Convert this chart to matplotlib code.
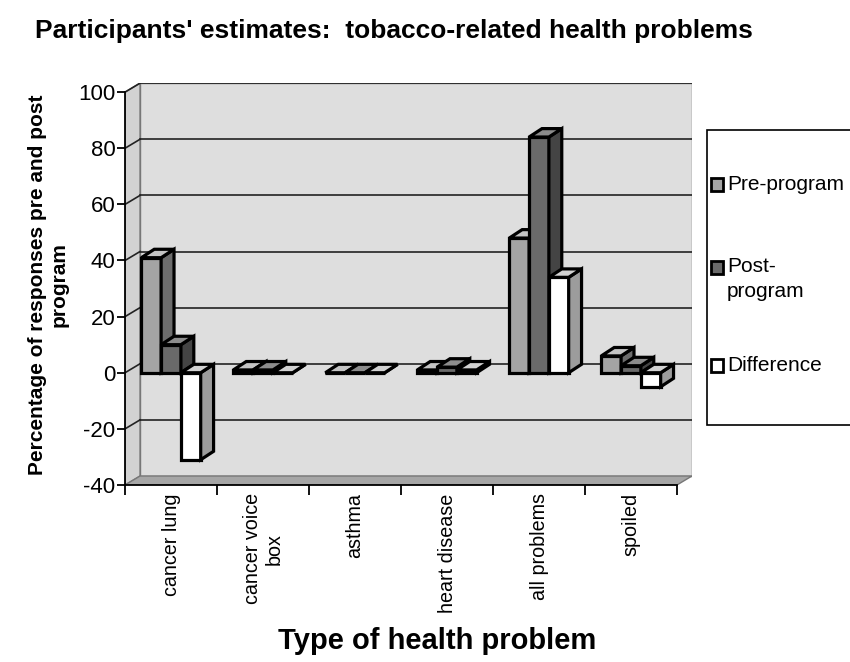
# Participants' estimates: tobacco-related health problems (pseudo-3D column chart)
import matplotlib
matplotlib.use("Agg")
import matplotlib.pyplot as plt
from matplotlib.patches import Polygon, Rectangle

plt.rcParams["font.family"] = ["Liberation Sans", "DejaVu Sans"]

categories = ["cancer lung", "cancer voice\nbox", "asthma", "heart disease",
              "all problems", "spoiled"]
pre = [41, 1, 0, 1, 48, 6]
post = [10, 1, 0, 2, 84, 2.5]
diff = [-31, 0, 0, 1, 34, -5]
series = ["Pre-program", "Post-\nprogram", "Difference"]
yticks = [-40, -20, 0, 20, 40, 60, 80, 100]

# colours: front, side, top
COLS = [("#a4a4a4", "#6c6c6c", "#c4c4c4"),
        ("#6a6a6a", "#444444", "#8c8c8c"),
        ("#ffffff", "#9c9c9c", "#d2d2d2")]
WALL, SIDEWALL, FLOOR = "#dedede", "#d2d2d2", "#a6a6a6"

DX, DY = 0.163, 3.2          # wall depth (category units, value units)
BDX, BDY = 0.14, 3.0         # bar depth
W = 0.215                    # bar width
YMIN, YMAX = -40, 100
LW = 2.3

fig = plt.figure(figsize=(8.5, 6.62), dpi=100)
ax = fig.add_axes([0.1471, 0.2674, 0.667, 0.607])
n = len(categories)
x0, x1 = -0.5, n - 0.5
ax.set_xlim(x0, x1 + DX)
ax.set_ylim(YMIN, YMAX + DY)
for s in ax.spines.values():
    s.set_visible(False)

# walls and floor
ax.add_patch(Rectangle((x0 + DX, YMIN + DY), x1 - x0, YMAX - YMIN, fc=WALL,
                       ec="#777777", lw=1, zorder=0.5))
ax.add_patch(Polygon([(x0, YMIN), (x0, YMAX), (x0 + DX, YMAX + DY), (x0 + DX, YMIN + DY)],
                     closed=True, fc=SIDEWALL, ec="#777777", lw=1, zorder=0.6))
ax.add_patch(Polygon([(x0, YMIN), (x1, YMIN), (x1 + DX, YMIN + DY), (x0 + DX, YMIN + DY)],
                     closed=True, fc=FLOOR, ec="#777777", lw=1, zorder=0.7))
for y in yticks[1:]:
    ax.plot([x0 + DX, x1 + DX], [y + DY, y + DY], color="#222222", lw=1.2, zorder=1)
    ax.plot([x0, x0 + DX], [y, y + DY], color="#222222", lw=1.2, zorder=1)

# front axes lines
ax.plot([x0, x0], [YMIN, YMAX], color="k", lw=1.3, zorder=2, clip_on=False)
ax.plot([x0, x1], [YMIN, YMIN], color="k", lw=1.3, zorder=2, clip_on=False)

# bars
z = 3
for i in range(n):
    for k, vals in enumerate([pre, post, diff]):
        v = vals[i]
        left = i - 1.5 * W + k * W
        front, side, top = COLS[k]
        b, t = min(0, v), max(0, v)
        ax.bar(left, v, width=W, align="edge", color=front, edgecolor="k",
               linewidth=LW, zorder=z)
        ax.add_patch(Polygon([(left + W, b), (left + W + BDX, b + BDY),
                              (left + W + BDX, t + BDY), (left + W, t)],
                             closed=True, fc=side, ec="k", lw=LW, zorder=z))
        ax.add_patch(Polygon([(left, t), (left + W, t), (left + W + BDX, t + BDY),
                              (left + BDX, t + BDY)],
                             closed=True, fc=top, ec="k", lw=LW, zorder=z))
        z += 1

# ticks
ax.set_yticks(yticks)
ax.set_yticklabels([str(v) for v in yticks], fontsize=16)
ax.tick_params(axis="y", direction="out", length=6, width=1.3, pad=1)
ax.set_xticks([x0 + j for j in range(n + 1)])
ax.set_xticklabels([])
ax.set_xticks(range(n), minor=True)
ax.set_xticklabels(categories, minor=True, rotation=90, fontsize=14.2,
                   va="top", ha="center", multialignment="center")
ax.tick_params(axis="x", which="major", direction="out", length=7, width=1.3)
ax.tick_params(axis="x", which="minor", length=0, pad=6)

fig.text(0.463, 0.953, "Participants' estimates:  tobacco-related health problems",
         ha="center", va="center", fontsize=19, fontweight="bold")
fig.text(0.057, 0.57, "Percentage of responses pre and post\nprogram", rotation=90,
         ha="center", va="center", multialignment="center", fontsize=15,
         fontweight="bold", linespacing=1.15)
fig.text(0.514, 0.031, "Type of health problem", ha="center", va="center",
         fontsize=21, fontweight="bold")

# legend
fig.patches.append(Rectangle((707 / 850, 1 - 425 / 662), 0.2, (425 - 130) / 662,
                             transform=fig.transFigure, fc="white", ec="k", lw=1.2))
leg_y = [185, 268, 366]
for k, (lab, yy) in enumerate(zip(series, leg_y)):
    fy = 1 - yy / 662
    fig.patches.append(Rectangle((711 / 850, fy - 0.0095), 12 / 850, 13 / 662,
                                 transform=fig.transFigure, fc=COLS[k][0], ec="k", lw=2))
    fig.text(727 / 850, fy + (0.016 if k == 1 else 0), lab, ha="left",
             va="top" if k == 1 else "center", fontsize=15, linespacing=1.35)

fig.savefig("out.png", dpi=100, facecolor="white")
